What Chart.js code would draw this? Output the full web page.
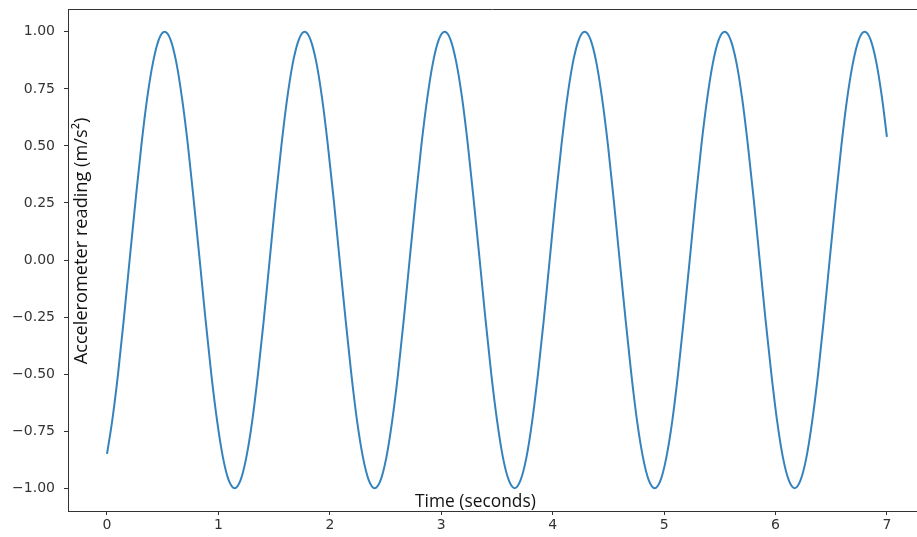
<!DOCTYPE html>
<html>
<head>
<meta charset="utf-8">
<script src="https://cdn.jsdelivr.net/npm/chart.js@4/dist/chart.umd.min.js"></script>
<style>
  html, body { margin: 0; padding: 0; background: #ffffff; }
  #wrap { width: 917px; height: 537px; }
</style>
</head>
<body>
<div id="wrap"><canvas id="chart" width="917" height="537"></canvas></div>
<script>
// Accelerometer trace: time stamps (s) and readings (m/s^2)
const times = [
  0, 0.046, 0.099, 0.151,
  0.203, 0.256, 0.308, 0.360, 0.413, 0.465, 0.517, 0.570, 0.622, 0.674, 0.727, 0.779,
  0.832, 0.884, 0.936, 0.989, 1.041, 1.093, 1.146, 1.198, 1.250, 1.303, 1.355, 1.408,
  1.460, 1.512, 1.565, 1.617, 1.669, 1.722, 1.774, 1.826, 1.879, 1.931, 1.983, 2.036,
  2.088, 2.141, 2.193, 2.245, 2.298, 2.350, 2.402, 2.455, 2.507, 2.559, 2.612, 2.664,
  2.716, 2.769, 2.821, 2.874, 2.926, 2.978, 3.031, 3.083, 3.135, 3.188, 3.240, 3.292,
  3.345, 3.397, 3.449, 3.502, 3.554, 3.607, 3.659, 3.711, 3.764, 3.816, 3.868, 3.921,
  3.973, 4.025, 4.078, 4.130, 4.182, 4.235, 4.287, 4.340, 4.392, 4.444, 4.497, 4.549,
  4.601, 4.654, 4.706, 4.758, 4.811, 4.863, 4.916, 4.968, 5.020, 5.073, 5.125, 5.177,
  5.230, 5.282, 5.334, 5.387, 5.439, 5.491, 5.544, 5.596, 5.649, 5.701, 5.753, 5.806,
  5.858, 5.910, 5.963, 6.015, 6.067, 6.120, 6.172, 6.224, 6.277, 6.329, 6.382, 6.434,
  6.486, 6.539, 6.591, 6.643, 6.696, 6.748, 6.800, 6.853, 6.905, 6.957,
  7.0
];
const readings = [
  -0.85, -0.707, -0.5, -0.259,
  0, 0.259, 0.5, 0.707, 0.866, 0.966, 1, 0.966, 0.866, 0.707, 0.5, 0.259,
  0, -0.259, -0.5, -0.707, -0.866, -0.966, -1, -0.966, -0.866, -0.707, -0.5, -0.259,
  0, 0.259, 0.5, 0.707, 0.866, 0.966, 1, 0.966, 0.866, 0.707, 0.5, 0.259,
  0, -0.259, -0.5, -0.707, -0.866, -0.966, -1, -0.966, -0.866, -0.707, -0.5, -0.259,
  0, 0.259, 0.5, 0.707, 0.866, 0.966, 1, 0.966, 0.866, 0.707, 0.5, 0.259,
  0, -0.259, -0.5, -0.707, -0.866, -0.966, -1, -0.966, -0.866, -0.707, -0.5, -0.259,
  0, 0.259, 0.5, 0.707, 0.866, 0.966, 1, 0.966, 0.866, 0.707, 0.5, 0.259,
  0, -0.259, -0.5, -0.707, -0.866, -0.966, -1, -0.966, -0.866, -0.707, -0.5, -0.259,
  0, 0.259, 0.5, 0.707, 0.866, 0.966, 1, 0.966, 0.866, 0.707, 0.5, 0.259,
  0, -0.259, -0.5, -0.707, -0.866, -0.966, -1, -0.966, -0.866, -0.707, -0.5, -0.259,
  0, 0.259, 0.5, 0.707, 0.866, 0.966, 1, 0.966, 0.866, 0.707,
  0.54
];

const xTicks = [0, 1, 2, 3, 4, 5, 6, 7];
const yTicks = [-1.0, -0.75, -0.5, -0.25, 0.0, 0.25, 0.5, 0.75, 1.0];

const xLabel = 'Time (seconds)';
const yLabel = 'Accelerometer reading (m/s\u00B2)';

const axisColor = '#333333';
const tickFont = { family: 'DejaVu Sans', size: 14 };

function fmtY(v) {
  return v.toFixed(2).replace('-', '\u2212');
}

// tick labels sit well inside the range, so no edge padding is needed for them
function noEdgePadding(s) {
  s.paddingTop = 0;
  s.paddingBottom = 0;
  s.paddingLeft = 0;
  s.paddingRight = 0;
}

// frame line along the top plus the two axis captions
const overlay = {
  id: 'overlay',
  afterDraw(chart) {
    const { ctx, chartArea } = chart;
    ctx.save();
    ctx.strokeStyle = axisColor;
    ctx.lineWidth = 1;
    ctx.beginPath();
    ctx.moveTo(chartArea.left, chartArea.top + 0.5);
    ctx.lineTo(chartArea.right, chartArea.top + 0.5);
    ctx.stroke();

    ctx.fillStyle = '#111111';
    ctx.textBaseline = 'alphabetic';

    // x caption
    ctx.font = '16px "Open Sans"';
    let w = ctx.measureText(xLabel).width;
    let size = 16 * 121 / w;
    ctx.font = size.toFixed(2) + 'px "Open Sans"';
    ctx.textAlign = 'left';
    ctx.fillText(xLabel, 415, 507);

    // y caption, rotated
    ctx.font = '16px "Open Sans"';
    w = ctx.measureText(yLabel).width;
    size = 16 * 247 / w;
    ctx.font = size.toFixed(2) + 'px "Open Sans"';
    ctx.translate(87, 241);
    ctx.rotate(-Math.PI / 2);
    ctx.textAlign = 'center';
    ctx.fillText(yLabel, 0, 0);
    ctx.restore();
  }
};

new Chart(document.getElementById('chart'), {
  type: 'line',
  data: {
    datasets: [{
      data: times.map((t, i) => ({ x: t, y: readings[i] })),
      borderColor: '#3583bd',
      borderWidth: 2,
      pointRadius: 0,
      fill: false,
      cubicInterpolationMode: 'monotone'
    }]
  },
  options: {
    responsive: false,
    animation: false,
    layout: { padding: { top: 9, right: 0, left: 0, bottom: 0 } },
    plugins: { legend: { display: false }, tooltip: { enabled: false } },
    scales: {
      x: {
        type: 'linear',
        min: -0.35,
        max: 7.27,
        afterBuildTicks: s => { s.ticks = xTicks.map(v => ({ value: v })); },
        afterFit: s => { s.height = 26; noEdgePadding(s); },
        ticks: {
          font: tickFont,
          color: axisColor,
          padding: 2,
          maxRotation: 0,
          callback: v => String(v)
        },
        grid: { drawOnChartArea: false, tickLength: 4, color: axisColor },
        border: { display: true, color: axisColor, width: 1 }
      },
      y: {
        min: -1.1,
        max: 1.1,
        afterBuildTicks: s => { s.ticks = yTicks.map(v => ({ value: v })); },
        afterFit: s => { s.width = 68; noEdgePadding(s); },
        ticks: {
          font: tickFont,
          color: axisColor,
          padding: 9,
          callback: v => fmtY(v)
        },
        grid: { drawOnChartArea: false, tickLength: 4, color: axisColor },
        border: { display: true, color: axisColor, width: 1 }
      }
    }
  },
  plugins: [overlay]
});
</script>
</body>
</html>
